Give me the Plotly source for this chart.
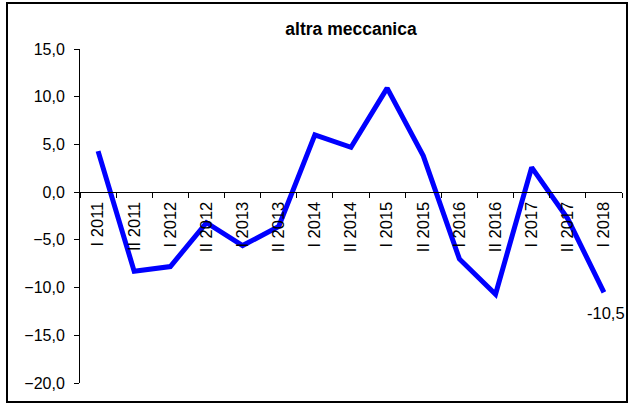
import plotly.graph_objects as go

categories = ["I 2011", "II 2011", "I 2012", "II 2012", "I 2013", "II 2013", "I 2014",
              "II 2014", "I 2015", "II 2015", "I 2016", "II 2016", "I 2017", "II 2017", "I 2018"]
values = [4.3, -8.3, -7.8, -3.2, -5.6, -3.6, 6.0, 4.7, 10.9, 3.8, -7.0, -10.7, 2.6, -2.8, -10.5]
y_ticks = [15, 10, 5, 0, -5, -10, -15, -20]
title = "altra meccanica"

W, H = 633, 405
ml, mr, mt, mb = 80, 11, 49, 22
pw, ph = W - ml - mr, H - mt - mb
yr = [-20, 15]
FONT = "Liberation Sans, Arial"

fig = go.Figure()
fig.add_trace(go.Scatter(x=categories, y=values, mode="lines",
                         line=dict(color="#0000FF", width=5), hoverinfo="skip"))

fig.add_annotation(x=categories[-1], y=values[-1], text=f"{values[-1]:.1f}".replace(".", ","),
                   showarrow=False, yanchor="top", xanchor="center", xshift=2, yshift=-10,
                   font=dict(family=FONT, size=16.5, color="black"))

fig.add_shape(type="rect", xref="paper", yref="paper",
              x0=(7 - ml) / pw, x1=(627 - ml) / pw,
              y0=-(402 - (H - mb)) / ph, y1=1 + (mt - 3) / ph,
              line=dict(color="black", width=2), fillcolor="rgba(0,0,0,0)")

zero_pos = (0 - yr[0]) / (yr[1] - yr[0])
fig.update_layout(
    width=W, height=H, margin=dict(l=ml, r=mr, t=mt, b=mb),
    paper_bgcolor="white", plot_bgcolor="white", showlegend=False,
    separators=",.",
    font=dict(family=FONT, size=16, color="black"),
    title=dict(text=f"<b>{title}</b>", x=0.5, xref="paper", y=1 - 29 / H, yanchor="middle",
               font=dict(size=17.5, family=FONT, color="black")),
    xaxis=dict(type="category", categoryarray=categories, anchor="free", position=zero_pos,
               showline=True, linecolor="black", linewidth=1, ticks="outside", ticklen=5,
               tickcolor="black", tickson="boundaries", tickangle=-90, showgrid=False,
               zeroline=False, range=[-0.5, len(categories) - 0.5],
               tickfont=dict(size=16.5), ticklabelstandoff=2),
    yaxis=dict(range=yr, tickvals=y_ticks, tickformat=".1f", showline=True, linecolor="black",
               linewidth=1, ticks="outside", ticklen=5, tickcolor="black", showgrid=False,
               zeroline=False, tickfont=dict(size=16), ticklabelstandoff=6),
)

fig.write_html("out.html")
